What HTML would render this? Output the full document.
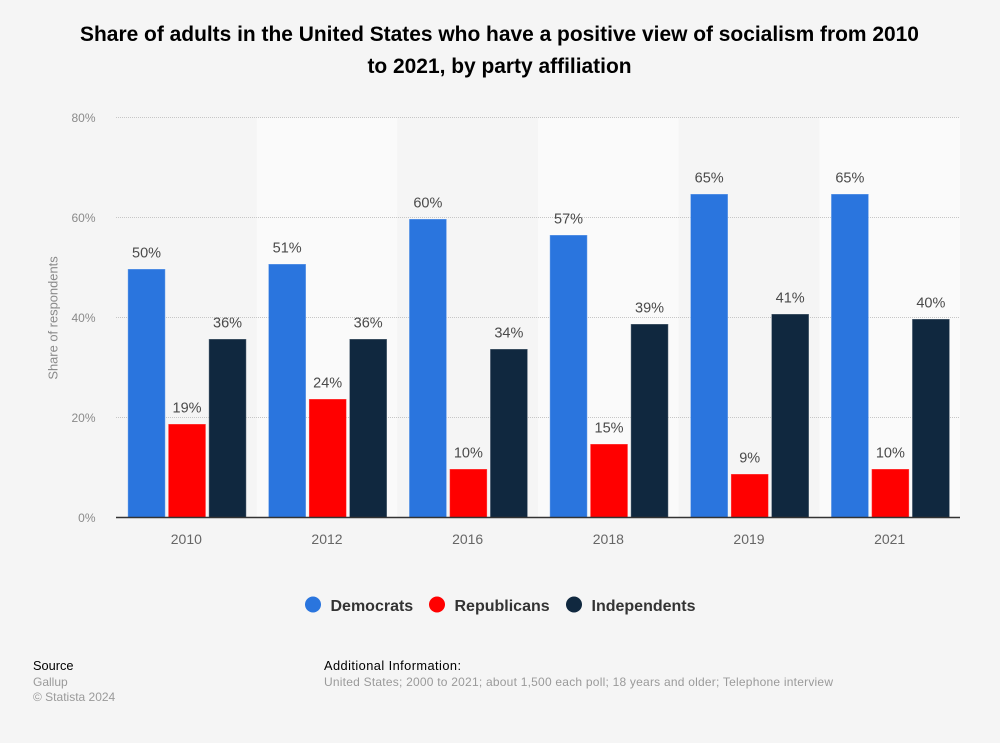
<!DOCTYPE html>
<html lang="en">
<head>
<meta charset="utf-8">
<title>Share of adults in the United States with a positive view of socialism</title>
<style>
html,body{margin:0;padding:0;background:#f5f5f5;}
body{width:1000px;height:743px;overflow:hidden;position:relative;font-family:"Liberation Sans",sans-serif;}
svg{position:absolute;left:0;top:0;display:block;}
text{font-family:"Liberation Sans",sans-serif;}
</style>
</head>
<body>
<svg id="chart" width="1000" height="743" viewBox="0 0 1000 743" xmlns="http://www.w3.org/2000/svg">
  <g font-size="20.95" font-weight="700" fill="#000" text-anchor="middle">
    <text x="499.5" y="41">Share of adults in the United States who have a positive view of socialism from 2010</text>
    <text x="499.5" y="73">to 2021, by party affiliation</text>
  </g>
  <g id="bands"></g>
  <g id="grid"></g>
  <g id="yticks"></g>
  <text transform="translate(57.5,318) rotate(-90)" text-anchor="middle" font-size="12.9" fill="#8a8a8a">Share of respondents</text>
  <g id="bars"></g>
  <g id="values"></g>
  <line x1="116" x2="960" y1="517.5" y2="517.5" stroke="#333" stroke-width="1.4"></line>
  <g id="xticks"></g>
  <g id="legend"></g>
  <g>
    <text x="33" y="670" fill="#000" font-size="12.8">Source</text>
    <text x="33" y="686" fill="#9a9a9a" font-size="12">Gallup</text>
    <text x="33" y="701" fill="#9a9a9a" font-size="12">© Statista 2024</text>
  </g>
  <g>
    <text x="324" y="670" fill="#000" font-size="12.8" textLength="137">Additional Information:</text>
    <text x="324" y="686" fill="#9a9a9a" font-size="12" textLength="509">United States; 2000 to 2021; about 1,500 each poll; 18 years and older; Telephone interview</text>
  </g>
</svg>
<script>
const categories = ['2010', '2012', '2016', '2018', '2019', '2021'];
const democrats = [50, 51, 60, 56.8, 65, 65];
const republicans = [19, 24, 10, 15, 9, 10];
const independents = [36, 36, 34, 39, 41, 40];
const seriesNames = ['Democrats', 'Republicans', 'Independents'];
const yTicks = [0, 20, 40, 60, 80];

const seriesValues = [democrats, republicans, independents];
const seriesColors = ['#2a75de', '#ff0000', '#10283f'];
const NS = 'http://www.w3.org/2000/svg';
const plotLeft = 116, plotRight = 960, plotBottom = 517.5, plotTop = 117.5, yMax = 80;
const yScale = v => plotBottom - (v / yMax) * (plotBottom - plotTop);
const barTop = v => yScale(v) + 1.5;
const bandWidth = (plotRight - plotLeft) / categories.length;
const xBand = i => plotLeft + i * bandWidth;
const barWidth = 37.5, barPitch = 40.5;
const xBar = (i, s) => xBand(i) + bandWidth / 2 + 0.7 - barWidth / 2 + (s - 1) * barPitch;

function make(tag, attrs, parent, txt) {
  const el = document.createElementNS(NS, tag);
  for (const k in attrs) el.setAttribute(k, attrs[k]);
  if (txt !== undefined) el.textContent = txt;
  parent.appendChild(el);
  return el;
}

const bandsG = document.getElementById('bands');
const gridG = document.getElementById('grid');
const yticksG = document.getElementById('yticks');
const barsG = document.getElementById('bars');
const valuesG = document.getElementById('values');
const xticksG = document.getElementById('xticks');
const legendG = document.getElementById('legend');

categories.forEach((c, i) => {
  if (i % 2 === 1) {
    const b = make('rect', {x: xBand(i), y: plotTop, width: bandWidth, height: plotBottom - plotTop, fill: '#fafafa'}, bandsG);
    
    
  }
});

yTicks.forEach(t => {
  if (t !== 0) {
    const l = make('line', {x1: plotLeft, x2: plotRight, y1: yScale(t), y2: yScale(t), stroke: '#c6c6c6', 'stroke-width': 1, 'stroke-dasharray': '1 1'}, gridG);
    
    
  }
  const lab = make('text', {x: 95.5, y: yScale(t) + 4.5, 'text-anchor': 'end', 'font-size': 12, fill: '#8a8a8a'}, yticksG, t + '%');
  
  
});

seriesValues.forEach((vals, s) => {
  vals.forEach((v, i) => {
    const top = barTop(v);
    const r = make('rect', {x: xBar(i, s), y: top, width: barWidth, height: plotBottom - top, fill: seriesColors[s], stroke: '#ffffff', 'stroke-opacity': 0.35, 'stroke-width': 1}, barsG);
    
    
    const t = make('text', {x: xBar(i, s) + barWidth / 2, y: top - 11.5, 'text-anchor': 'middle', 'font-size': 14.5, fill: '#4a4a4a'}, valuesG, Math.round(v) + '%');
    
    
  });
});

categories.forEach((c, i) => {
  const t = make('text', {x: xBand(i) + bandWidth / 2, y: 544, 'text-anchor': 'middle', 'font-size': 14, fill: '#666'}, xticksG, c);
  
  
});

const legendDotX = [313, 437, 574];
const legendTextX = [330.5, 454.5, 591.5];
seriesNames.forEach((n, s) => {
  const g = make('g', {}, legendG);
  
  
  const d = make('circle', {cx: legendDotX[s], cy: 604.5, r: 8, fill: seriesColors[s]}, g);
  
  
  const t = make('text', {x: legendTextX[s], y: 611, 'font-size': 16, 'font-weight': 700, fill: '#333'}, g, n);
  
  
});
</script>
</body>
</html>
